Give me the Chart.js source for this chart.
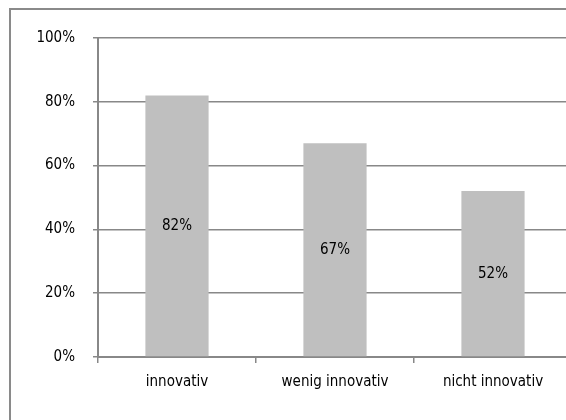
<!DOCTYPE html>
<html>
<head>
<meta charset="utf-8">
<script src="https://cdn.jsdelivr.net/npm/chart.js@4/dist/chart.umd.min.js"></script>
<style>
  html, body { margin: 0; padding: 0; overflow: hidden; background: #fff; width: 566px; height: 420px; }
  #frame { position: absolute; left: 9px; top: 8px; width: 600px; height: 450px; border: 2px solid #8a8a8a; box-sizing: border-box; }
  #wrap { position: absolute; left: 0; top: 0; width: 600px; height: 420px; }
</style>
</head>
<body>
<div id="frame"></div>
<div id="wrap"><canvas id="c" width="600" height="420"></canvas></div>
<script>
// Share of companies per innovation group
const categories = ['innovativ', 'wenig innovativ', 'nicht innovativ'];
const shares = [82, 67, 52];
const yTicks = [0, 20, 40, 60, 80, 100];

const FONT = "'DejaVu Sans Condensed', 'Liberation Sans Narrow', sans-serif";
const FONT_SIZE = 15;

// Writes the percentage in the middle of each bar
const barLabels = {
  id: 'barLabels',
  afterDatasetsDraw(chart) {
    const ctx = chart.ctx;
    const meta = chart.getDatasetMeta(0);
    ctx.save();
    ctx.font = FONT_SIZE + 'px ' + FONT;
    ctx.fillStyle = '#000';
    ctx.textAlign = 'center';
    ctx.textBaseline = 'middle';
    meta.data.forEach((bar, i) => {
      const mid = (bar.y + bar.base) / 2;
      ctx.fillText(shares[i] + '%', bar.x, mid);
    });
    ctx.restore();
  }
};

new Chart(document.getElementById('c'), {
  type: 'bar',
  data: {
    labels: categories,
    datasets: [{
      data: shares,
      backgroundColor: '#bfbfbf',
      borderWidth: 0,
      categoryPercentage: 1,
      barPercentage: 0.4
    }]
  },
  options: {
    responsive: false,
    animation: false,
    devicePixelRatio: 1,
    layout: { padding: { left: 0, top: 38, right: 28, bottom: 0 } },
    plugins: { legend: { display: false }, tooltip: { enabled: false } },
    scales: {
      x: {
        offset: true,
        grid: { offset: true, drawOnChartArea: false, drawTicks: true, tickLength: 6, color: '#888', lineWidth: 1.5 },
        border: { display: true, color: '#888', width: 2 },
        ticks: { color: '#000', font: { family: FONT, size: FONT_SIZE }, padding: 10, maxRotation: 0 },
        afterFit(scale) { scale.height = 63; }
      },
      y: {
        min: 0, max: 100,
        afterBuildTicks(scale) { scale.ticks = yTicks.map(v => ({ value: v })); },
        grid: { drawTicks: true, tickLength: 5, color: '#888', lineWidth: 1.5 },
        border: { display: true, color: '#888', width: 2 },
        ticks: { color: '#000', font: { family: FONT, size: FONT_SIZE }, padding: 18, callback: v => v + '%' },
        afterFit(scale) { scale.width = 98; }
      }
    }
  },
  plugins: [barLabels]
});
</script>
</body>
</html>
